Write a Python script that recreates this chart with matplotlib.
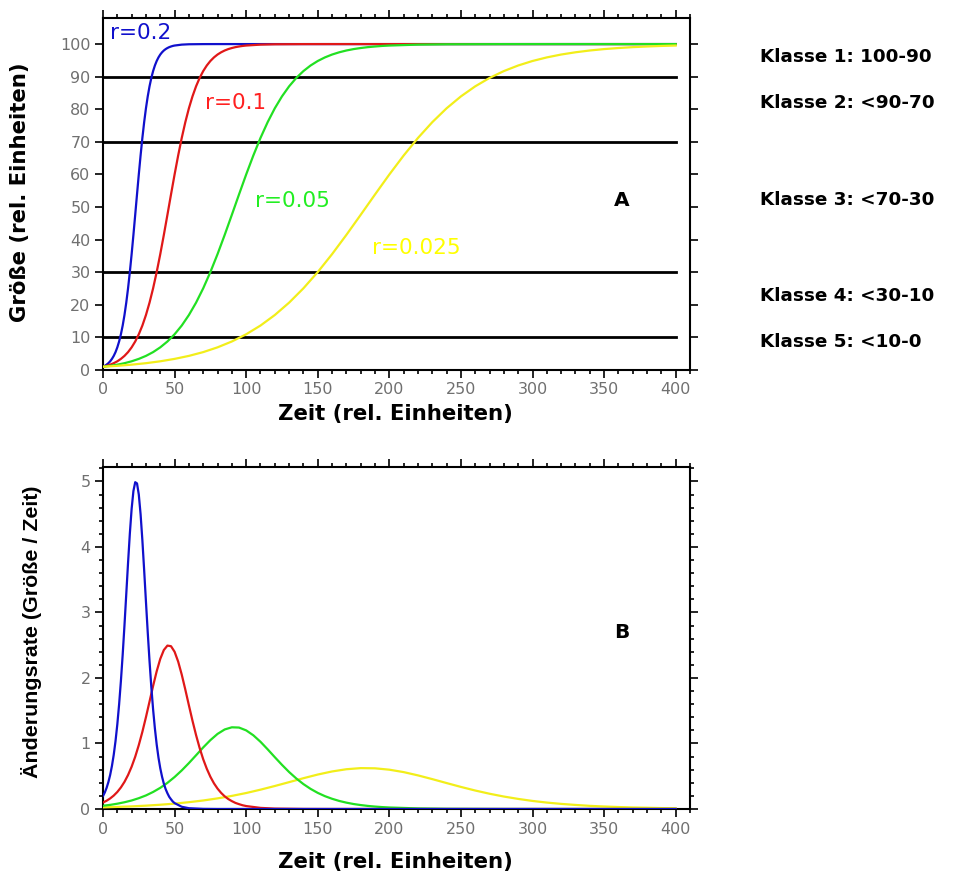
import numpy as np
import matplotlib
matplotlib.use("Agg")
from matplotlib import pyplot as plt
from matplotlib.ticker import MultipleLocator

# values
r_labels = ["r=0.2", "r=0.1", "r=0.05", "r=0.025"]
colors = ["#1010cc", "#e01818", "#22e022", "#f2ee1a"]
class_lines = [10, 30, 70, 90]
class_labels = ["Klasse 1: 100-90", "Klasse 2: <90-70", "Klasse 3: <70-30",
                "Klasse 4: <30-10", "Klasse 5: <10-0"]

# sample positions along the time axis where the curves were read
time_blue = list(np.arange(0, 50.01, 1.25)) + [55, 60, 70, 80, 400]
time_red = list(np.arange(0, 100.01, 2.5)) + [110, 120, 140, 160, 400]
time_green = list(np.arange(0, 200.01, 5)) + [220, 240, 280, 320, 400]
time_yellow = list(np.arange(0, 400.01, 10))

# panel A: size
size_blue = [1.0, 1.28, 1.64, 2.09, 2.67, 3.41, 4.33, 5.49, 6.95, 8.75, 10.96, 13.64,
             16.87, 20.67, 25.07, 30.05, 35.55, 41.46, 47.62, 53.86, 59.99, 65.81, 71.2,
             76.04, 80.3, 83.95, 87.04, 89.61, 91.72, 93.43, 94.81, 95.91, 96.79, 97.48,
             98.03, 98.46, 98.79, 99.06, 99.26, 99.43, 99.55, 99.83, 99.94, 99.99, 100, 100]
size_red = [1.0, 1.28, 1.64, 2.09, 2.67, 3.41, 4.33, 5.49, 6.95, 8.75, 10.96, 13.64,
            16.87, 20.67, 25.07, 30.05, 35.55, 41.46, 47.62, 53.86, 59.99, 65.81, 71.2,
            76.04, 80.3, 83.95, 87.04, 89.61, 91.72, 93.43, 94.81, 95.91, 96.79, 97.48,
            98.03, 98.46, 98.79, 99.06, 99.26, 99.43, 99.55, 99.83, 99.94, 99.99, 100, 100]
size_green = [1.0, 1.28, 1.64, 2.09, 2.67, 3.41, 4.33, 5.49, 6.95, 8.75, 10.96, 13.64,
              16.87, 20.67, 25.07, 30.05, 35.55, 41.46, 47.62, 53.86, 59.99, 65.81, 71.2,
              76.04, 80.3, 83.95, 87.04, 89.61, 91.72, 93.43, 94.81, 95.91, 96.79, 97.48,
              98.03, 98.46, 98.79, 99.06, 99.26, 99.43, 99.55, 99.83, 99.94, 99.99, 100, 100]
size_yellow = [1.0, 1.28, 1.64, 2.09, 2.67, 3.41, 4.33, 5.49, 6.95, 8.75, 10.96, 13.64,
               16.87, 20.67, 25.07, 30.05, 35.55, 41.46, 47.62, 53.86, 59.99, 65.81, 71.2,
               76.04, 80.3, 83.95, 87.04, 89.61, 91.72, 93.43, 94.81, 95.91, 96.79, 97.48,
               98.03, 98.46, 98.79, 99.06, 99.26, 99.43, 99.55]

# panel B: rate of change
rate_blue = [0.198, 0.252, 0.322, 0.41, 0.52, 0.658, 0.828, 1.038, 1.292, 1.596, 1.952,
             2.356, 2.804, 3.28, 3.758, 4.204, 4.582, 4.854, 4.988, 4.97, 4.8, 4.5, 4.102,
             3.644, 3.164, 2.694, 2.256, 1.862, 1.518, 1.228, 0.984, 0.784, 0.622, 0.492,
             0.386, 0.304, 0.24, 0.186, 0.148, 0.114, 0.09, 0.034, 0.012, 0.002, 0, 0]
rate_red = [0.099, 0.126, 0.161, 0.205, 0.26, 0.329, 0.414, 0.519, 0.646, 0.798, 0.976,
            1.178, 1.402, 1.64, 1.879, 2.102, 2.291, 2.427, 2.494, 2.485, 2.4, 2.25, 2.051,
            1.822, 1.582, 1.347, 1.128, 0.931, 0.759, 0.614, 0.492, 0.392, 0.311, 0.246,
            0.193, 0.152, 0.12, 0.093, 0.074, 0.057, 0.045, 0.017, 0.006, 0.001, 0, 0]
rate_green = [0.05, 0.063, 0.081, 0.103, 0.13, 0.165, 0.207, 0.26, 0.323, 0.399, 0.488,
              0.589, 0.701, 0.82, 0.94, 1.051, 1.146, 1.214, 1.247, 1.243, 1.2, 1.125,
              1.026, 0.911, 0.791, 0.674, 0.564, 0.466, 0.38, 0.307, 0.246, 0.196, 0.156,
              0.123, 0.097, 0.076, 0.06, 0.047, 0.037, 0.029, 0.023, 0.009, 0.003, 0.0004, 0, 0]
rate_yellow = [0.025, 0.032, 0.04, 0.051, 0.065, 0.082, 0.104, 0.13, 0.162, 0.2, 0.244,
               0.295, 0.351, 0.41, 0.47, 0.526, 0.573, 0.607, 0.624, 0.621, 0.6, 0.563,
               0.513, 0.456, 0.396, 0.337, 0.282, 0.233, 0.19, 0.154, 0.123, 0.098, 0.078,
               0.062, 0.048, 0.038, 0.03, 0.023, 0.019, 0.014, 0.011]

times = [time_blue, time_red, time_green, time_yellow]
sizes = [size_blue, size_red, size_green, size_yellow]
rates = [rate_blue, rate_red, rate_green, rate_yellow]

tick_grey = "#707070"

fig = plt.figure(figsize=(9.65, 8.8), dpi=100)
axA = fig.add_axes([103 / 965, 1 - 370 / 880, 587 / 965, 352 / 880])
axB = fig.add_axes([103 / 965, 1 - 809 / 880, 587 / 965, 342 / 880])

# Panel A
for y in class_lines:
    axA.plot([0, 400], [y, y], color="black", lw=2, zorder=2)
for t, s, c in zip(times, sizes, colors):
    axA.plot(t, s, color=c, lw=1.6, zorder=3)

axA.set_xlim(0, 410)
axA.set_ylim(0, 108)
axA.xaxis.set_major_locator(MultipleLocator(50))
axA.xaxis.set_minor_locator(MultipleLocator(10))
axA.yaxis.set_major_locator(MultipleLocator(10))
axA.tick_params(which="both", direction="out", top=True, right=True,
                labeltop=False, labelright=False, labelsize=11.5,
                labelcolor=tick_grey, width=1.2)
axA.tick_params(which="major", length=6, pad=3)
axA.tick_params(which="minor", length=3)

axA.text(5, 103.5, r_labels[0], color=colors[0], fontsize=15.5, va="center")
axA.text(71, 82, r_labels[1], color="#ff2020", fontsize=15.5, va="center")
axA.text(106, 52, r_labels[2], color="#22ee22", fontsize=15.5, va="center")
axA.text(188, 37.5, r_labels[3], color="#ffff00", fontsize=15.5, va="center")
axA.text(362, 52, "A", fontsize=14.5, fontweight="bold", ha="center", va="center")

# Panel B
for t, r, c in zip(times[::-1], rates[::-1], colors[::-1]):
    axB.plot(t, r, color=c, lw=1.6, zorder=3)

axB.set_xlim(0, 410)
axB.set_ylim(0, 5.22)
axB.xaxis.set_major_locator(MultipleLocator(50))
axB.xaxis.set_minor_locator(MultipleLocator(10))
axB.yaxis.set_major_locator(MultipleLocator(1))
axB.yaxis.set_minor_locator(MultipleLocator(0.2))
axB.tick_params(which="both", direction="out", top=True, right=True,
                labeltop=False, labelright=False, labelsize=11.5,
                labelcolor=tick_grey, width=1.2)
axB.tick_params(which="major", length=6, pad=3)
axB.tick_params(which="minor", length=3)
axB.text(362, 2.7, "B", fontsize=14.5, fontweight="bold", ha="center", va="center")

for ax in (axA, axB):
    for sp in ax.spines.values():
        sp.set_linewidth(1.5)

# axis titles
fig.text(395 / 965, 1 - 414 / 880, "Zeit (rel. Einheiten)", fontsize=15.3,
         fontweight="bold", ha="center", va="center")
fig.text(395 / 965, 1 - 862 / 880, "Zeit (rel. Einheiten)", fontsize=15.3,
         fontweight="bold", ha="center", va="center")
fig.text(20 / 965, 1 - 192 / 880, "Größe (rel. Einheiten)", fontsize=15.3,
         fontweight="bold", rotation=90, ha="center", va="center")
fig.text(32 / 965, 1 - 632 / 880, "Änderungsrate (Größe / Zeit)", fontsize=15.4,
         fontweight="bold", rotation=90, ha="center", va="center",
         family="Liberation Sans")

# class legend on the right
for lab, ypix in zip(class_labels, [57, 103, 200, 296, 342]):
    fig.text(760 / 965, 1 - ypix / 880, lab, fontsize=13.2, fontweight="bold",
             ha="left", va="center")

fig.savefig("out.png", dpi=100)
